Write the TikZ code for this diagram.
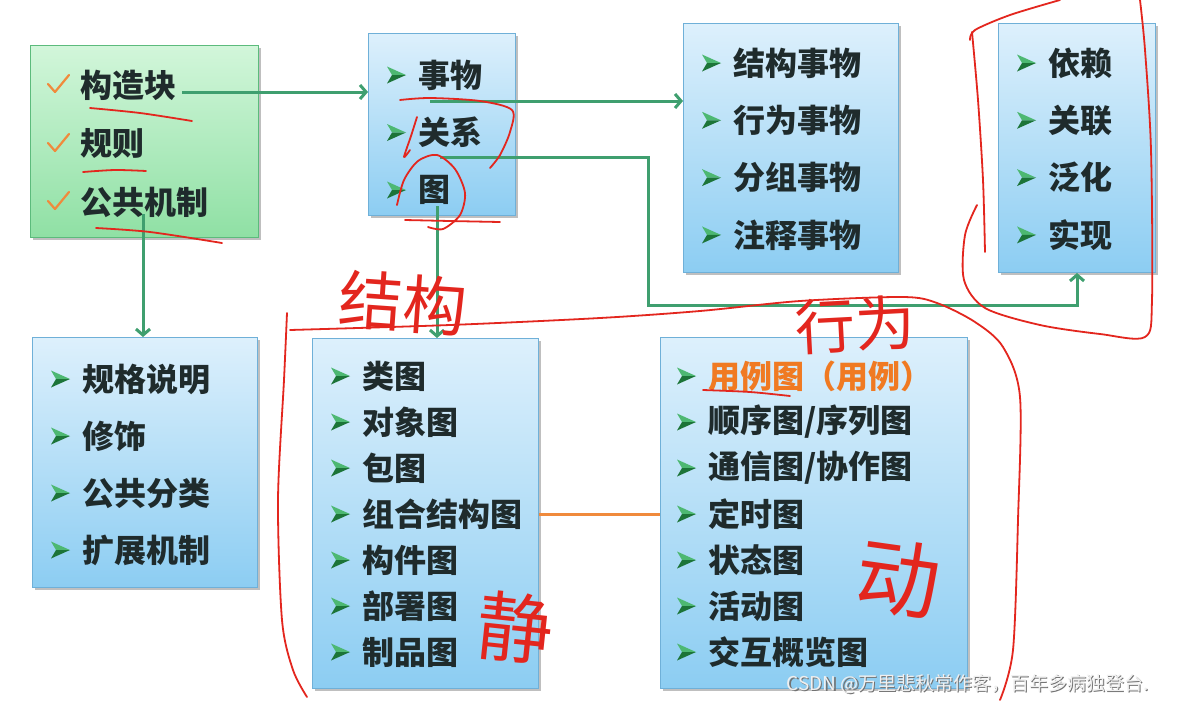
\documentclass[tikz,border=0pt]{standalone}
\usepackage{fontspec}
\newfontfamily\cjk{Noto Sans CJK SC}
\usetikzlibrary{arrows.meta,shadows,calc}
\definecolor{bluetop}{HTML}{DDF0FC}
\definecolor{bluebot}{HTML}{8CCDF2}
\definecolor{blueedge}{HTML}{6FB0D8}
\definecolor{greentop}{HTML}{D2F6DA}
\definecolor{greenbot}{HTML}{8FE0A4}
\definecolor{greenedge}{HTML}{5CBB7C}
\definecolor{conngreen}{HTML}{3F9F6F}
\definecolor{txt}{HTML}{1F2B2C}
\definecolor{orangetxt}{HTML}{F07A22}
\definecolor{orangeline}{HTML}{F08A3C}
\definecolor{mklight}{HTML}{4DB872}
\definecolor{mkdark}{HTML}{1C7438}
\definecolor{hand}{HTML}{E3261E}
\tikzset{
  box/.style={line width=1pt, anchor=north west, inner sep=0pt,
    drop shadow={shadow xshift=2pt, shadow yshift=-2.5pt, fill=black, opacity=0.25}},
  bluebox/.style={box, draw=blueedge, top color=bluetop, bottom color=bluebot},
  greenbox/.style={box, draw=greenedge, top color=greentop, bottom color=greenbot},
  itemtext/.style={font=\cjk\bfseries\fontsize{32}{32}\selectfont, text=txt, inner sep=0pt, anchor=west},
  conn/.style={draw=conngreen, line width=3pt, -{Straight Barb[length=6pt,width=14pt]}},
  linkline/.style={draw=orangeline, line width=3pt},
  handline/.style={draw=hand, line width=1.8pt, line cap=round, line join=round},
  handtext/.style={font=\cjk\fontsize{#1}{#1}\selectfont, text=hand, inner sep=0pt},
}
\newcommand\itemlist[5]{%
  \foreach \t [count=\i from 0] in {#5} {
    \pgfmathsetmacro\yy{#3+\i*#4}
    \node[itemtext] (#1\i) at (#2,\yy) {\t};
    \fill[mklight] (#2-31,\yy-8.5) -- (#2-12,\yy) -- (#2-26,\yy) -- cycle;
    \fill[mkdark] (#2-26,\yy) -- (#2-12,\yy) -- (#2-31,\yy+8.5) -- cycle;
  }}
\begin{document}
\begin{tikzpicture}[x=1pt,y=-1pt]
\useasboundingbox[fill=white] (0,0) rectangle (1179,702);

% boxes
\node[greenbox, minimum width=228pt, minimum height=192pt] (A) at (30,45) {};
\node[bluebox, minimum width=147pt, minimum height=182pt] (B) at (368,33) {};
\node[bluebox, minimum width=215pt, minimum height=249pt] (C) at (683,23) {};
\node[bluebox, minimum width=157pt, minimum height=249pt] (D) at (998,23) {};
\node[bluebox, minimum width=225pt, minimum height=250pt] (E) at (32,337) {};
\node[bluebox, minimum width=226pt, minimum height=350pt] (F) at (312,338) {};
\node[bluebox, minimum width=307pt, minimum height=351pt] (G) at (660,337) {};

% box A items with check marks
\foreach \t/\yy [count=\i from 0] in {构造块/85, 规则/144, 公共机制/202} {
  \node[itemtext] (a\i) at (80,\yy) {\t};
  \draw[draw=orangeline, line width=2.2pt, line cap=round, line join=round]
    (48,\yy-1) -- (55,\yy+7) -- (69,\yy-10);
}
\itemlist{b}{418}{75}{57.5}{事物,关系,图}
\itemlist{c}{733}{63}{57.3}{结构事物,行为事物,分组事物,注释事物}
\itemlist{d}{1048}{63}{57.3}{依赖,关联,泛化,实现}
\itemlist{e}{82}{379}{57}{规格说明,修饰,公共分类,扩展机制}
\itemlist{f}{362}{376}{46}{类图,对象图,包图,组合结构图,构件图,部署图,制品图}
\itemlist{g}{708}{376}{46}{{\color{orangetxt}用例图（用例）},顺序图/序列图,通信图/协作图,定时图,状态图,活动图,交互概览图}

% connectors
\coordinate (s1) at (182,92);
\coordinate (s2) at (143,214);
\coordinate (s3) at (430,101);
\coordinate (s4) at (440,157);
\coordinate (k4) at (648,305);
\coordinate (s5) at (437,206);
\draw[conn] (s1) -- (s1 -| B.west);
\draw[conn] (s2) -- (s2 |- E.north);
\draw[conn] (s3) -- (s3 -| C.west);
\draw[conn] (s4) -| (k4) -| (D.south);
\draw[conn] (s5) -- (s5 |- F.north);
\draw[linkline] (F.east |- f3) -- (G.west |- f3);

% handwritten annotations
\draw[handline] plot[smooth] coordinates {(90,108) (140,113) (192,121)};
\draw[handline] plot[smooth] coordinates {(83,172) (115,170) (146,171)};
\draw[handline] plot[smooth] coordinates {(96,228) (150,232) (222,243)};
\draw[handline] plot[smooth] coordinates {(400,100) (430,98) (480,101) (512,110) (510,132) (500,155) (490,168)};
\draw[handline] plot[smooth] coordinates {(417,117) (411,136) (404,157) (410,150)};
\draw[handline] plot[smooth] coordinates {(397,205) (404,180) (418,161) (437,155) (455,169) (465,193) (460,215) (443,229) (428,227)};
\draw[handline] plot[smooth] coordinates {(405,220) (450,221) (500,222)};
\draw[handline] plot[smooth] coordinates {(290,330) (450,325) (600,318) (700,311) (800,301) (903,297) (937,303) (975,322) (1003,347) (1020,397) (1018,520) (1013,650) (1000,700)};
\draw[handline] plot[smooth] coordinates {(287,313) (284,380) (278,500) (282,620) (293,670) (307,697)};
\draw[handline] plot[smooth] coordinates {(970,40) (975,30) (1010,15) (1060,0)};
\draw[handline] plot[smooth] coordinates {(972,32) (978,100) (983,180) (985,252)};
\draw[handline] plot[smooth] coordinates {(977,205) (965,235) (964,280) (985,308) (1040,325) (1100,334) (1145,337) (1152,300) (1151,150) (1145,50) (1140,0)};
\draw[handline] plot[smooth] coordinates {(703,390) (750,392) (790,396)};
\node[handtext=64, rotate=-4] (h1) at (403,303) {结构};
\node[handtext=60, rotate=3] (h2) at (855,325) {行为};
\node[handtext=76, rotate=-6] (h3) at (515,628) {静};
\node[handtext=84, rotate=-8] (h4) at (898,578) {动};

% watermark
\node[font=\cjk\fontsize{19}{19}\selectfont, text=black!55, anchor=west, inner sep=0pt] (wm0) at (787.8,685.2) {CSDN @万里悲秋常作客，百年多病独登台.};
\node[font=\cjk\fontsize{19}{19}\selectfont, text=black!6, anchor=west, inner sep=0pt] (wm) at (786.5,684) {CSDN @万里悲秋常作客，百年多病独登台.};
\end{tikzpicture}
\end{document}
